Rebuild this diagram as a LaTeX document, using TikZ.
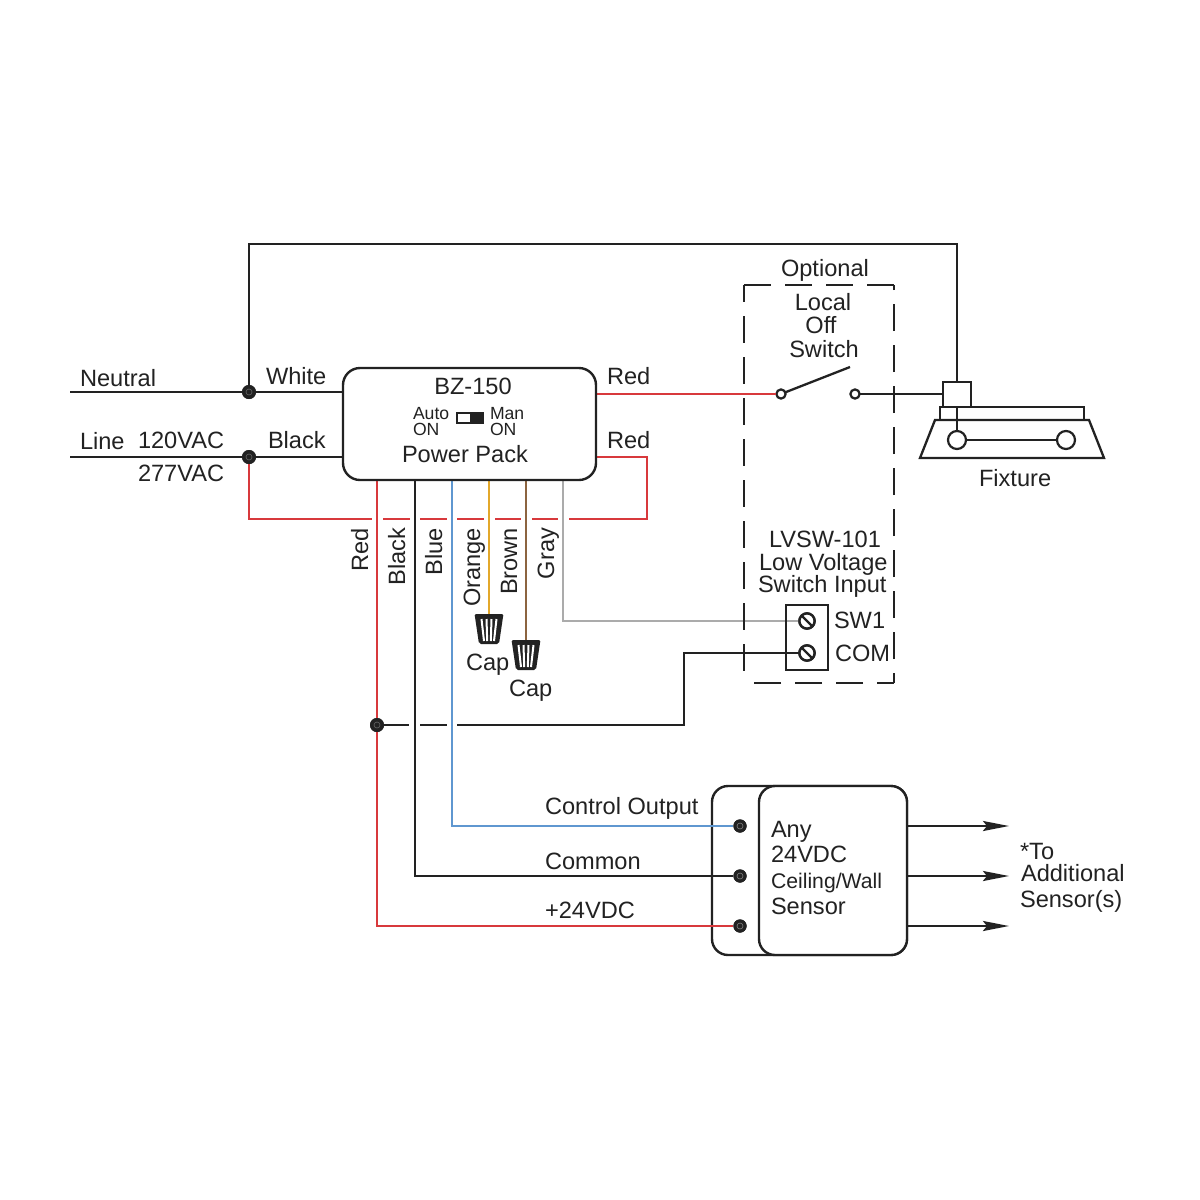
\documentclass[tikz,border=0pt]{standalone}
\usepackage{fontspec}
\setmainfont{Liberation Sans}
\usetikzlibrary{arrows.meta}
\definecolor{ink}{HTML}{222222}
\definecolor{wred}{HTML}{D8393C}
\definecolor{wblue}{HTML}{5F97D0}
\definecolor{worange}{HTML}{E3A82B}
\definecolor{wbrown}{HTML}{8C6440}
\definecolor{wgray}{HTML}{ABABAB}
\tikzset{
  wire/.style={line width=1.15pt,draw=ink},
  redwire/.style={line width=1.2pt,draw=wred},
  lbl/.style={inner sep=0pt,outer sep=0pt,text=ink,font=\fontsize{11.8pt}{13pt}\selectfont,anchor=base west},
  mid/.style={lbl,anchor=base},
  vlbl/.style={lbl,rotate=90,anchor=base east},
  small/.style={lbl,font=\fontsize{8.8pt}{10pt}\selectfont},
  dot/.style={circle,fill=ink,draw=none,minimum size=7pt,inner sep=0pt,outer sep=0pt},
  term/.style={circle,fill=white,draw=ink,line width=1.1pt,minimum size=4.6pt,inner sep=0pt,outer sep=0pt},
  lamp/.style={circle,fill=white,draw=ink,line width=1.1pt,minimum size=9pt,inner sep=0pt,outer sep=0pt},
  screw/.style={circle,fill=white,draw=ink,line width=1.2pt,minimum size=7.6pt,inner sep=0pt,outer sep=0pt},
  module/.style={rectangle,draw=ink,fill=white,line width=1.2pt,inner sep=0pt,outer sep=0pt,anchor=north west},
  dashbox/.style={line width=1.15pt,draw=ink,dash pattern=on 13.5pt off 7pt},
  outarrow/.style={wire,-{Stealth[length=13pt,width=5pt,inset=2pt]}},
}
\newcommand{\wirecap}[1]{%
\begin{scope}[shift={(#1)}]
  \fill[ink,rounded corners=1pt] (-14.5,0) -- (14.5,0) -- (14,3) -- (10,30) -- (-10,30) -- (-14,3) -- cycle;
  \draw[white,line width=1pt] (-7.5,5) -- (-5,27) (-2.5,5) -- (-1.8,27) (2.5,5) -- (1.8,27) (7.5,5) -- (5,27);
\end{scope}}
\begin{document}
\begin{tikzpicture}[x=.5pt,y=-.5pt]
\useasboundingbox[fill=white] (0,0) rectangle (1200,1200);

% boxes that wires run into
\node[module,rounded corners=8pt,minimum width=97.5pt,minimum height=84.5pt] (outer) at (712,786) {};

% named points
\coordinate (nl) at (70,392); \coordinate (ll) at (70,457);
\node[dot] (nd) at (249,392) {}; \node[dot] (ld) at (249,457) {};
\coordinate (topl) at (249,244); \coordinate (topr) at (957,244);
\coordinate (ppN) at (343,392); \coordinate (ppL) at (343,457);
\coordinate (ppR1) at (596,394); \coordinate (ppR2) at (596,457);
\coordinate (ppr) at (377,480); \coordinate (ppk) at (415,480);
\coordinate (ppb) at (452,480); \coordinate (ppo) at (489,480);
\coordinate (ppw) at (526,480); \coordinate (ppg) at (563,480);
\coordinate (capa) at (489,615); \coordinate (capb) at (526,641);
\node[term] (swa) at (781,394) {}; \node[term] (swb) at (855,394) {};
\coordinate (blade) at (850,367);
\node[screw] (sw1) at (807,621) {}; \node[screw] (com) at (807,653) {};
\node[dot] (jn) at (377,725) {};
\node[dot,minimum size=6.6pt] (tc) at (740,826) {};
\node[dot,minimum size=6.6pt] (tk) at (740,876) {};
\node[dot,minimum size=6.6pt] (tp) at (740,926) {};
\coordinate (aa) at (1009,826); \coordinate (ab) at (1009,876); \coordinate (ac) at (1009,926);
\coordinate (sa) at (907,826); \coordinate (sb) at (907,876); \coordinate (sc) at (907,926);

% wires
\draw[wire] (nl) -- (nd) -- (ppN);
\draw[wire] (ll) -- (ld) -- (ppL);
\draw[wire] (nd) -- (topl) -- (topr) -- (957,382);
\draw[redwire] (ld) |- (372,519);
\draw[redwire] (383,519) -- (410,519) (420,519) -- (447,519) (457,519) -- (484,519)
  (495,519) -- (521,519) (532,519) -- (558,519);
\draw[redwire] (569,519) -- (647,519) -- (647,457) -- (ppR2);
\draw[redwire] (ppR1) -- (swa);
\draw[redwire] (ppr) |- (tp);
\draw[wire] (ppk) |- (tk);
\draw[line width=1.2pt,wblue] (ppb) |- (tc);
\draw[line width=1.2pt,worange] (ppo) -- (capa);
\draw[line width=1.2pt,wbrown] (ppw) -- (capb);
\draw[line width=1.2pt,wgray] (ppg) |- (sw1);
\draw[wire] (com) -| (684,725) -- (457,725);
\draw[wire] (420,725) -- (447,725);
\draw[wire] (jn) -- (409,725);
\draw[wire] (swa) -- (blade);
\draw[wire] (swb) -- (943,394);

% junction and terminal dots over the wires
\foreach \p in {nd,ld,jn} {\node[dot] at (\p) {}; \draw[draw=black!60,line width=.3pt] (\p) circle (3);}
\foreach \p in {tc,tk,tp} {\node[dot,minimum size=6.6pt] at (\p) {}; \draw[draw=black!50,line width=.3pt] (\p) circle (3);}

% power pack
\node[module,rounded corners=8.5pt,minimum width=126.5pt,minimum height=56pt] (pp) at (343,368) {};
\fill[white] (457,413) rectangle (470,423);
\fill[ink] (470,413) rectangle (483,423);
\draw[ink,line width=.9pt] (457,413) rectangle (483,423);

% local switch dashed enclosure
\draw[dashbox] (744,285) -- (895,285);
\draw[dashbox,dash phase=5pt] (744,285) -- (744,683);
\draw[dashbox,dash phase=8.5pt] (894,683) -- (894,285);
\draw[dashbox,dash phase=5pt] (894,683) -- (750,683);

% terminal block
\draw[line width=1.15pt,ink] (786,605) rectangle (828,670);
\node[screw] (sw1b) at (sw1) {}; \node[screw] (comb) at (com) {};
\draw[wire] (802,616) -- (812,626) (802,648) -- (812,658);

% fixture
\draw[wire,fill=white] (940,420) -- (940,407) -- (1084,407) -- (1084,420);
\draw[wire,fill=white] (935,420) -- (1089,420) -- (1104,458) -- (920,458) -- cycle;
\node[module,minimum width=14pt,minimum height=12.5pt] (ballast) at (943,382) {};
\node[lamp] (la) at (957,440) {}; \node[lamp] (lb) at (1066,440) {};
\draw[wire] (la) -- (lb);
\draw[wire] (ballast.south) -- (la);

% caps
\wirecap{489,614}
\wirecap{526,640}

% sensor
\node[module,rounded corners=8pt,minimum width=74pt,minimum height=84.5pt] (inner) at (759,786) {};
\draw[outarrow] (sa) -- (aa);
\draw[outarrow] (sb) -- (ab);
\draw[outarrow] (sc) -- (ac);

% labels
\node[lbl] (t1) at (80,386) {Neutral};
\node[lbl] (t2) at (266,384) {White};
\node[lbl] (t3) at (80,449) {Line};
\node[lbl] (t4) at (138,448) {120VAC};
\node[lbl] (t5) at (138,481) {277VAC};
\node[lbl] (t6) at (268,448) {Black};
\node[mid] (t7) at (473,394) {BZ-150};
\node[small] (t8) at (413,419) {Auto};
\node[small] (t9) at (413,435) {ON};
\node[small] (t10) at (490,419) {Man};
\node[small] (t11) at (490,435) {ON};
\node[lbl] (t12) at (402,462) {Power Pack};
\node[lbl] (t13) at (607,384) {Red};
\node[lbl] (t14) at (607,448) {Red};
\node[lbl] (t15) at (781,276) {Optional};
\node[mid] (t16) at (823,310) {Local};
\node[mid] (t17) at (821,333) {Off};
\node[mid] (t18) at (824,357) {Switch};
\node[lbl] (t19) at (979,486) {Fixture};
\node[lbl] (t20) at (769,547) {LVSW-101};
\node[lbl] (t21) at (759,570) {Low Voltage};
\node[lbl] (t22) at (758,592) {Switch Input};
\node[lbl] (t23) at (834,628) {SW1};
\node[lbl] (t24) at (835,661) {COM};
\node[lbl] (t25) at (466,670) {Cap};
\node[lbl] (t26) at (509,696) {Cap};
\node[lbl] (t27) at (545,814) {Control Output};
\node[lbl] (t28) at (545,869) {Common};
\node[lbl] (t29) at (545,918) {+24VDC};
\node[lbl] (t30) at (771,837) {Any};
\node[lbl] (t31) at (771,862) {24VDC};
\node[lbl,font=\fontsize{10.6pt}{12pt}\selectfont] (t32) at (771,888) {Ceiling/Wall};
\node[lbl] (t33) at (771,914) {Sensor};
\node[lbl] (t34) at (1020,859) {*To};
\node[lbl] (t35) at (1021,881) {Additional};
\node[lbl] (t36) at (1020,907) {Sensor(s)};
\node[vlbl] (v1) at (368,528) {Red};
\node[vlbl] (v2) at (405,528) {Black};
\node[vlbl] (v3) at (442,528) {Blue};
\node[vlbl] (v4) at (480,528) {Orange};
\node[vlbl] (v5) at (517,528) {Brown};
\node[vlbl] (v6) at (554,528) {Gray};
\end{tikzpicture}
\end{document}
